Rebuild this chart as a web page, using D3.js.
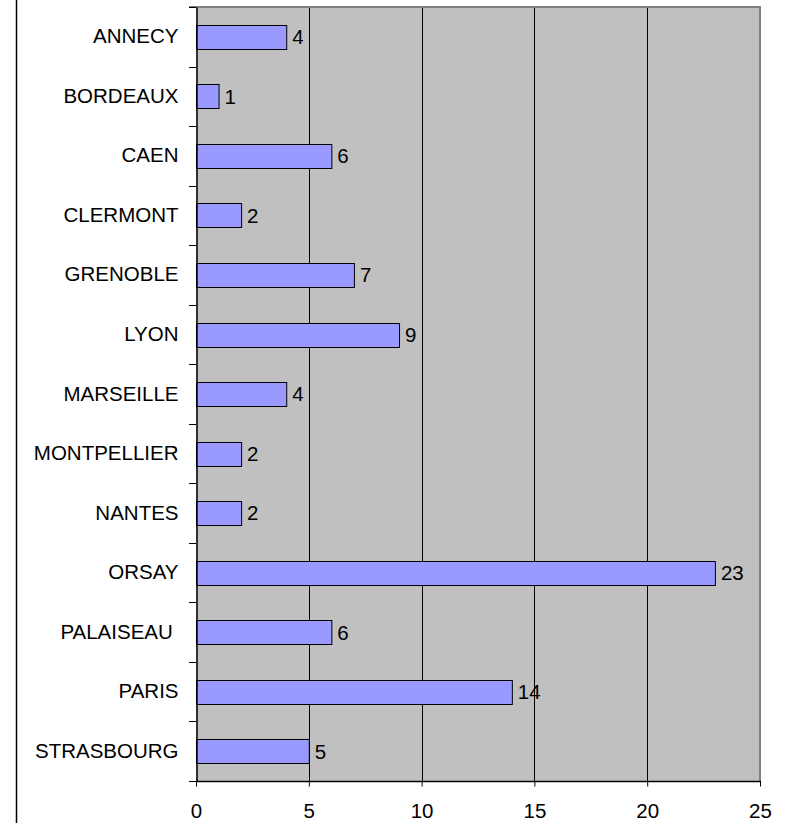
<!DOCTYPE html>
<html>
<head>
<meta charset="utf-8">
<script src="https://cdn.jsdelivr.net/npm/d3@7"></script>
<style>
  body { margin: 0; background: #fff; }
  svg { display: block; }
  text { font-family: "Liberation Sans", Arial, sans-serif; fill: #000; white-space: pre; }
</style>
</head>
<body>
<script>
const categories = ["ANNECY", "BORDEAUX", "CAEN", "CLERMONT", "GRENOBLE", "LYON", "MARSEILLE", "MONTPELLIER", "NANTES", "ORSAY", "PALAISEAU ", "PARIS", "STRASBOURG"];
const values = [4, 1, 6, 2, 7, 9, 4, 2, 2, 23, 6, 14, 5];
const xTicks = [0, 5, 10, 15, 20, 25];

const W = 786, H = 823;
const pL = 196, pR = 760, pT = 7, pB = 781;
const FS = 20.5;

const svg = d3.select("body").append("svg").attr("width", W).attr("height", H);

const x = d3.scaleLinear().domain([0, 25]).range([pL, pR]);
const y = d3.scaleBand().domain(categories).range([pT, pB]).paddingInner(0.6).paddingOuter(0.3);
const yb = d3.scaleBand().domain(categories).range([pT, pB]);

// outer left border line
svg.append("line").attr("x1", 16.5).attr("x2", 16.5).attr("y1", 0).attr("y2", H)
  .attr("stroke", "#000").attr("stroke-width", 1.5);

// plot background
svg.append("rect").attr("x", pL).attr("y", pT).attr("width", pR - pL).attr("height", pB - pT)
  .attr("fill", "#C0C0C0");

// gridlines
svg.append("g").selectAll("line").data(xTicks.filter(d => d > 0 && d < 25)).join("line")
  .attr("x1", d => Math.round(x(d)) + 0.5).attr("x2", d => Math.round(x(d)) + 0.5)
  .attr("y1", pT).attr("y2", pB)
  .attr("stroke", "#000").attr("stroke-width", 1);

// plot border top & right (gray)
svg.append("line").attr("x1", 189).attr("x2", pR + 1).attr("y1", pT).attr("y2", pT)
  .attr("stroke", "#808080").attr("stroke-width", 2);
svg.append("line").attr("x1", pR).attr("x2", pR).attr("y1", pT).attr("y2", pB)
  .attr("stroke", "#808080").attr("stroke-width", 2);

// bars
svg.append("g").selectAll("rect").data(categories).join("rect")
  .attr("x", x(0) + 0.5)
  .attr("y", d => Math.round(y(d)) + 0.5)
  .attr("width", (d, i) => x(values[i]) - x(0))
  .attr("height", Math.round(y.bandwidth()))
  .attr("fill", "#9999FF").attr("stroke", "#000").attr("stroke-width", 1);

// value labels
svg.append("g").selectAll("text").data(categories).join("text")
  .attr("x", (d, i) => x(values[i]) + 6)
  .attr("y", d => y(d) + y.bandwidth() / 2)
  .attr("dy", "0.36em")
  .attr("font-size", FS)
  .text((d, i) => values[i]);

// y axis
const yAxis = d3.axisLeft(yb).tickSize(0).tickPadding(18);
const gy = svg.append("g").attr("transform", `translate(${pL + 0.5},0)`).call(yAxis);
gy.select(".domain").attr("stroke", "#000").attr("stroke-width", 1.5);
gy.selectAll("text").attr("font-size", FS).attr("font-family", "Liberation Sans, Arial, sans-serif").attr("fill", "#000");
// category boundary ticks
svg.append("g").selectAll("line").data(d3.range(categories.length + 1)).join("line")
  .attr("x1", 189).attr("x2", pL)
  .attr("y1", i => Math.round(pT + i * yb.step()) + 0.5)
  .attr("y2", i => Math.round(pT + i * yb.step()) + 0.5)
  .attr("stroke", "#000").attr("stroke-width", 1);

// x axis
const xAxis = d3.axisBottom(x).tickValues(xTicks).tickSize(5).tickPadding(17);
const gx = svg.append("g").attr("transform", `translate(0,${pB + 0.5})`).call(xAxis);
gx.select(".domain").attr("stroke", "#000").attr("stroke-width", 1.5).attr("d", `M${pL},0H${pR + 1}`);
gx.selectAll(".tick line").attr("stroke", "#000");
gx.selectAll("text").attr("font-size", FS).attr("font-family", "Liberation Sans, Arial, sans-serif").attr("fill", "#000");
</script>
</body>
</html>
